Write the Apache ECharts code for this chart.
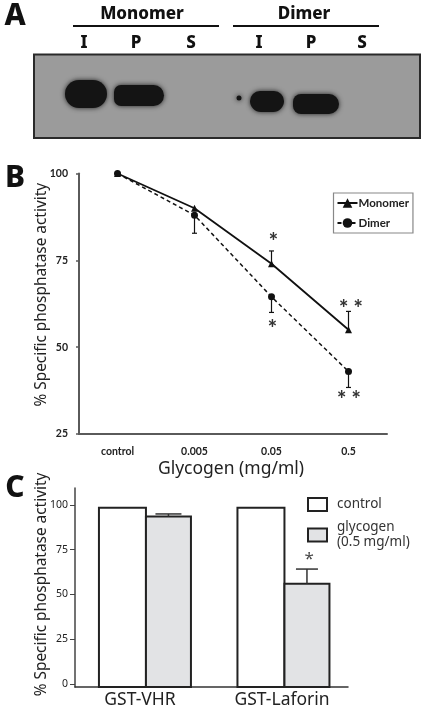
<!DOCTYPE html>
<html><head><meta charset="utf-8">
<style>html,body{margin:0;padding:0;background:#fff}#c{width:425px;height:709px}</style>
<script src="https://cdn.jsdelivr.net/npm/echarts@6/dist/echarts.min.js"></script>
</head><body><div id="c"></div>
<script>
const doses = ['control','0.005','0.05','0.5'];
const monomer = [100, 90, 74, 55];
const dimer = [100, 88, 64.5, 43];
const monomerErrTop = [null, null, 77.7, 60.3];
const dimerErrLow = [null, 82.8, 60, 38.4];
const starsB = [['0.05', 80.2, '*'], ['0.5', 60.9, '* *'], ['0.05', 55.4, '*'], ['0.5', 34.7, '* *']];
const proteins = ['GST-VHR','GST-Laforin'];
const controlVals = [98.5, 98.5];
const glycogenVals = [93.6, 56];
const glycogenErrTop = [95, 64.2];
const yTicksC = [0, 25, 50, 75, 100];
const GLY = 'glycogen\n(0.5 mg/ml)';
const sans = '"Noto Sans", sans-serif';
const lato = 'Lato, sans-serif';
const axisGray = '#5a5a5a';
const cMin = -1.7;
const starNudge = [2, 2.5, 1, 0.5];

function errB(values, base){
  return {
    type:'custom', xAxisIndex:0, yAxisIndex:0, silent:true, z:3,
    data: values.map((v,i)=>[i, base[i], v]).filter(d=>d[2]!=null),
    renderItem(p, api){
      const a = api.coord([api.value(0), api.value(1)]);
      const b = api.coord([api.value(0), api.value(2)]);
      const st = {stroke:'#111', lineWidth:1.2};
      return {type:'group', children:[
        {type:'line', shape:{x1:a[0],y1:a[1],x2:b[0],y2:b[1]}, style:st},
        {type:'line', shape:{x1:b[0]-2.5,y1:b[1],x2:b[0]+2.5,y2:b[1]}, style:st}
      ]};
    }
  };
}
function barC(name, vals, fill, offs){
  return {
    type:'custom', name, xAxisIndex:1, yAxisIndex:1, z:2, silent:true,
    itemStyle:{color:fill, borderColor:'#222', borderWidth:2},
    data: vals.map((v,i)=>[i,v]),
    renderItem(p, api){
      const top = api.coord([api.value(0), api.value(1)]);
      const bot = api.coord([api.value(0), cMin]);
      const x = top[0]+offs[0];
      return {type:'rect', shape:{x, y:top[1], width:offs[1]-offs[0], height:bot[1]-top[1]},
        style:{fill, stroke:'#222', lineWidth:2}};
    }
  };
}
const bands = [
  [65,80,42,28,[14,14,14,14]],[114,85,50,21,[7,11,11,7]],[236.5,95.5,5,5,2.5],[250,91,34,21,[10,10,11,11]],[293,94,46,20,[8,10,10,8]]
];
const t = (x,y,text,size,weight,font)=>({type:'text',x,y,style:{text,fontSize:size,fontWeight:weight||'bold',fontFamily:font||sans,fill:'#111',align:'center',verticalAlign:'middle'}});

const option = {
  animation:false, backgroundColor:'#fff',
  legend:[
    {data:['Monomer','Dimer'], orient:'vertical', left:333.5, top:193, width:80, height:39,
     backgroundColor:'#fff', borderColor:'#888', borderWidth:1.2, padding:[4,4,4,3], itemGap:8, itemWidth:20, itemHeight:12,
     selectedMode:false, textStyle:{fontFamily:lato,fontWeight:'bold',fontSize:11.5,color:'#222',padding:[0,0,0,-4]}},
    {data:[{name:'control',icon:'rect'},{name:GLY,icon:'rect'}], orient:'vertical', left:307, top:497, padding:0, itemGap:8, itemWidth:19, itemHeight:13,
     selectedMode:false, textStyle:{fontFamily:sans,fontSize:13.5,color:'#333',lineHeight:15,padding:[0,0,0,5]}}
  ],
  grid:[
    {left:79, width:308, top:173.5, height:260.5},
    {left:75, width:273, top:488, height:199}
  ],
  xAxis:[
    {type:'category', gridIndex:0, data:doses, boundaryGap:true,
     axisLine:{lineStyle:{color:axisGray,width:2}}, axisTick:{alignWithLabel:true,length:3,lineStyle:{color:axisGray,width:1.5}},
     axisLabel:{fontFamily:lato,fontWeight:'bold',fontSize:10.5,color:'#222',margin:12},
     name:'Glycogen (mg/ml)', nameLocation:'middle', nameGap:26, nameMoveOverlap:false,
     nameTextStyle:{fontFamily:sans,fontSize:17.5,color:'#222',padding:[0,4,0,0]}},
    {type:'value', gridIndex:1, min:-0.505, max:1.466, splitLine:{show:false},
     axisLine:{onZero:false,lineStyle:{color:'#333',width:1.5}}, axisTick:{show:false},
     axisLabel:{customValues:[-0.036,0.99], formatter:v=>v<0.5?proteins[0]:proteins[1],
       fontFamily:sans,fontSize:17.5,color:'#222',margin:4}}
  ],
  yAxis:[
    {type:'value', gridIndex:0, min:25, max:100, interval:25, splitLine:{show:false},
     axisLine:{show:true,lineStyle:{color:axisGray,width:2}}, axisTick:{show:true,length:3,lineStyle:{color:axisGray,width:1.5}},
     axisLabel:{fontFamily:lato,fontWeight:'bold',fontSize:10.5,color:'#222',margin:11},
     name:'% Specific phosphatase activity', nameLocation:'middle', nameGap:30, nameRotate:90, nameMoveOverlap:false,
     nameTextStyle:{fontFamily:sans,fontSize:15.4,color:'#222',padding:[0,0,0,18]}},
    {type:'value', gridIndex:1, min:cMin, max:109.5, splitLine:{show:false},
     axisLine:{show:true,onZero:false,lineStyle:{color:'#444',width:1.5}},
     axisTick:{show:true,length:5,customValues:yTicksC,lineStyle:{color:'#444',width:1}},
     axisLabel:{customValues:yTicksC,fontFamily:sans,fontSize:10.5,color:'#222',margin:7},
     name:'% Specific phosphatase activity', nameLocation:'middle', nameGap:26, nameRotate:90, nameMoveOverlap:false,
     nameTextStyle:{fontFamily:sans,fontSize:15.4,color:'#222',padding:[0,0,0,6]}}
  ],
  series:[
    {type:'line', name:'Monomer', xAxisIndex:0, yAxisIndex:0, data:monomer, symbol:'triangle', symbolSize:7, z:4, silent:true,
     lineStyle:{color:'#111',width:1.8}, itemStyle:{color:'#111'}},
    {type:'line', name:'Dimer', xAxisIndex:0, yAxisIndex:0, data:dimer, symbol:'circle', symbolSize:7, z:4, silent:true,
     lineStyle:{color:'#111',width:1.5,type:[4,3]}, itemStyle:{color:'#111'}},
    errB(monomerErrTop, monomer),
    errB(dimerErrLow, dimer),
    {type:'scatter', xAxisIndex:0, yAxisIndex:0, symbolSize:0, silent:true, z:5,
     data:starsB.map((s,i)=>({value:[s[0],s[1]], label:{formatter:s[2],offset:[starNudge[i],0]}})),
     label:{show:true,position:'inside',fontFamily:lato,fontWeight:'900',fontSize:22,color:'#000'}},
    barC('control', controlVals, '#ffffff', [-46,1]),
    barC(GLY, glycogenVals, '#e2e3e5', [1,46]),
    {type:'custom', xAxisIndex:1, yAxisIndex:1, silent:true, z:3,
     data:glycogenErrTop.map((v,i)=>[i,glycogenVals[i],v]),
     renderItem(p, api){
       const a = api.coord([api.value(0), api.value(1)]);
       const b = api.coord([api.value(0), api.value(2)]);
       const cx = a[0]+23.5, hw = api.value(0)===0 ? 13 : 11;
       const st = {stroke:'#333', lineWidth:1.5};
       return {type:'group', children:[
         {type:'line', shape:{x1:cx,y1:a[1],x2:cx,y2:b[1]}, style:st},
         {type:'line', shape:{x1:cx-hw,y1:b[1],x2:cx+hw,y2:b[1]}, style:st}
       ]};
     }},
    {type:'scatter', xAxisIndex:1, yAxisIndex:1, symbolSize:0, silent:true, z:5,
     data:[[1.185, 70]],
     label:{show:true,position:'inside',formatter:'*',fontFamily:sans,fontSize:17,color:'#111'}}
  ],
  graphic:[
    t(15,16,'A',30,'800'), t(15,178,'B',30,'800'), t(15,488,'C',30,'800'),
    t(142,14.5,'Monomer',17,'800'), t(304,14.5,'Dimer',17,'800'),
    {type:'rect',shape:{x:73,y:25,width:146,height:2},style:{fill:'#111'}},
    {type:'rect',shape:{x:233,y:25,width:146,height:2},style:{fill:'#111'}},
    t(84,43,'I',17,'800'), t(136,43,'P',17,'800'), t(191,43,'S',17,'800'), t(259,43,'I',17,'800'), t(311,43,'P',17,'800'), t(362,43,'S',17,'800'),
    {type:'rect',shape:{x:34,y:54.5,width:386,height:83.5},style:{fill:'#9b9b9b',stroke:'#2a2a2a',lineWidth:2}},
    ...bands.map(b=>({type:'rect',shape:{x:b[0],y:b[1],width:b[2],height:b[3],r:b[4]},
      style:{fill:'#141414',shadowBlur:5,shadowColor:'#222'}}))
  ]
};
echarts.init(document.getElementById('c'),null,{renderer:'canvas'}).setOption(option);
</script></body></html>
